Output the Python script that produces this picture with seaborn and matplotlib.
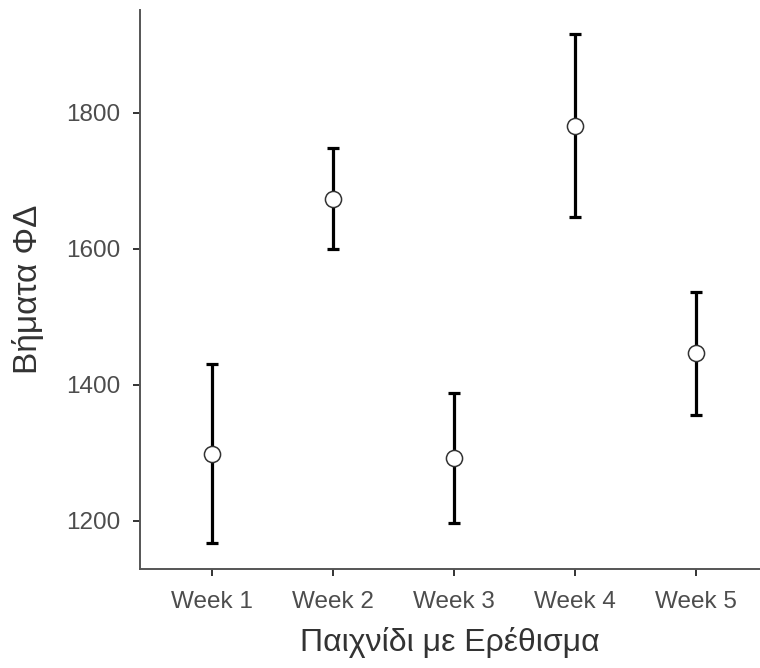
import matplotlib
matplotlib.use("Agg")
import matplotlib.pyplot as plt
import seaborn as sns
import pandas as pd
import numpy as np

weeks = ["Week 1", "Week 2", "Week 3", "Week 4", "Week 5"]
mean_steps = [1298, 1673, 1292, 1780, 1446]
lower_ci = [1167, 1599, 1197, 1647, 1355]
upper_ci = [1431, 1748, 1388, 1915, 1536]
yticks = [1200, 1400, 1600, 1800]

sns.set_style("ticks")
plt.rcParams["font.family"] = ["Liberation Sans", "DejaVu Sans"]

df = pd.DataFrame({"week": weeks, "mean": mean_steps, "lo": lower_ci, "hi": upper_ci})

fig = plt.figure(figsize=(7.6, 6.68), dpi=100)
ax = fig.add_axes([140 / 760, 1 - 569 / 668, 620 / 760, 559 / 668])

xpos = np.arange(len(weeks))
yerr = np.vstack([df["mean"] - df["lo"], df["hi"] - df["mean"]])
ax.errorbar(xpos, df["mean"], yerr=yerr, fmt="none", ecolor="black",
            elinewidth=2.3, capsize=4.6, capthick=2.3, zorder=2)
sns.scatterplot(x=xpos, y=df["mean"], ax=ax, s=135, color="white",
                edgecolor="#333333", linewidth=1.1, zorder=3)

ax.set_xlim(-0.595, 4.53)
ax.set_ylim(1129, 1951)
ax.set_xticks(xpos)
ax.set_xticklabels(weeks)
ax.set_yticks(yticks)

grey = "#4d4d4d"
for s in ["left", "bottom"]:
    ax.spines[s].set_color("#555555")
    ax.spines[s].set_linewidth(1.4)
sns.despine(ax=ax)
ax.tick_params(axis="both", colors="#333333", labelcolor=grey, labelsize=17.5,
               length=5, width=1.4)
ax.tick_params(axis="x", pad=11)
ax.tick_params(axis="y", pad=9)

ax.set_xlabel("Παιχνίδι με Ερέθισμα", fontsize=23, color="#333333", labelpad=10)
ax.set_ylabel("Βήματα ΦΔ", fontsize=24, color="#333333", labelpad=16)

fig.savefig("out.png", dpi=100)
